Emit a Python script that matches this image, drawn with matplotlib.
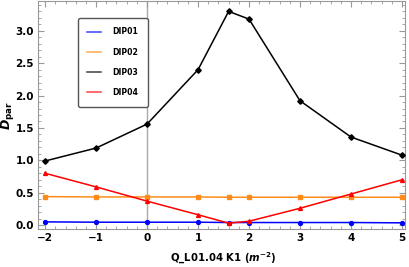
import matplotlib
matplotlib.use("Agg")
import matplotlib.pyplot as plt
from matplotlib.ticker import MultipleLocator

x = [-2, -1, 0, 1, 1.6, 2, 3, 4, 5]
dip01 = [0.05, 0.045, 0.045, 0.045, 0.04, 0.04, 0.04, 0.04, 0.035]
dip02 = [0.44, 0.435, 0.435, 0.435, 0.43, 0.43, 0.43, 0.43, 0.43]
dip03 = [0.99, 1.19, 1.56, 2.40, 3.30, 3.18, 1.92, 1.36, 1.08]
dip04 = [0.80, 0.59, 0.37, 0.16, 0.03, 0.06, 0.26, 0.48, 0.70]
labels = ["DIP01", "DIP02", "DIP03", "DIP04"]
colors = ["#0000ff", "#ff8c1a", "#000000", "#ff0000"]
markers = ["o", "s", "D", "^"]
xticks = [-2, -1, 0, 1, 2, 3, 4, 5]
xticklabels = ["\u22122", "\u22121", "0", "1", "2", "3", "4", "5"]

fig = plt.figure(figsize=(4.09, 2.67), dpi=100)
ax = fig.add_axes([38/409, 1 - 229/267, (405-38)/409, (229-1)/267])

ax.axvline(0, color="#aaaaaa", lw=1.0, zorder=1)
for ys, lab, c, m in zip([dip01, dip02, dip03, dip04], labels, colors, markers):
    ax.plot(x, ys, color=c, lw=1.1, marker=m, ms=2.8, label=lab, zorder=3)

ax.set_xlim(-2.14, 5.06)
ax.set_ylim(-0.06, 3.46)
ax.set_xticks(xticks)
ax.set_xticklabels(xticklabels)
ax.xaxis.set_minor_locator(MultipleLocator(0.2))
ax.yaxis.set_major_locator(MultipleLocator(0.5))
ax.yaxis.set_minor_locator(MultipleLocator(0.1))
ax.tick_params(which="both", direction="in", top=True, right=True, color="#999999")
ax.tick_params(which="major", length=4, labelsize=7.5, pad=3)
ax.tick_params(which="minor", length=2)
for lab in ax.get_xticklabels() + ax.get_yticklabels():
    lab.set_fontweight("bold")
for sp in ax.spines.values():
    sp.set_color("#999999")

ax.set_xlabel(r"Q_L01.04 K1 ($\mathbfit{m}^{\mathbf{-2}}$)", fontsize=7.3, fontweight="bold")
ax.xaxis.set_label_coords((223-38)/367, -(251-229)/228)
ax.set_ylabel(r"$\mathbfit{D}_{\mathbf{par}}$", fontsize=9)
ax.yaxis.set_label_coords(-(38-16)/367, 0.5)

leg = ax.legend(loc="upper left", bbox_to_anchor=((78-38)/367, 1 - (18-1)/228),
                borderaxespad=0, fontsize=5.6, frameon=True,
                fancybox=True, edgecolor="#555555", handlelength=1.8, labelspacing=1.45,
                borderpad=1.2, handletextpad=1.45)
for h in leg.legend_handles:
    h.set_marker("")
    h.set_alpha(0.75)
for t in leg.get_texts():
    t.set_fontweight("bold")
leg.get_frame().set_linewidth(1.0)
leg.get_frame().set_alpha(1)

fig.savefig("out.png", dpi=100)
